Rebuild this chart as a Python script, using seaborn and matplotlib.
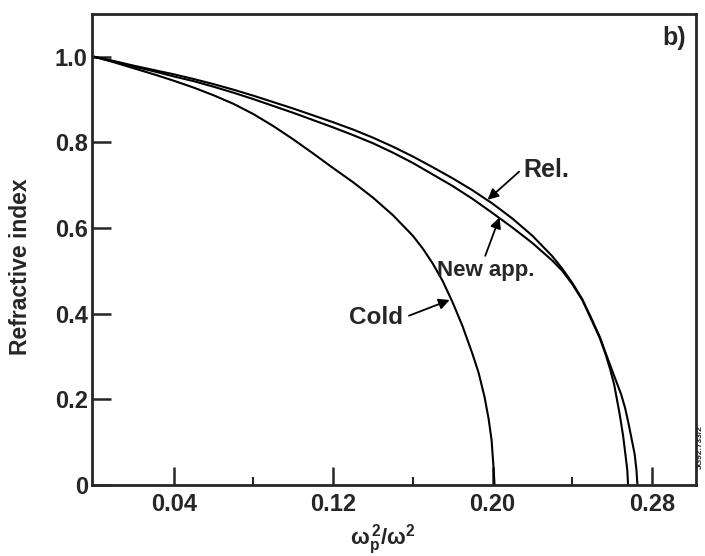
import numpy as np
import pandas as pd
import matplotlib
matplotlib.use("Agg")
import matplotlib.pyplot as plt
import seaborn as sns

# values (x = wp^2/w^2, y = refractive index)
cold_x = [0.0, 0.01, 0.02, 0.03, 0.04, 0.05, 0.06, 0.07, 0.08, 0.09, 0.10,
          0.11, 0.12, 0.13, 0.14, 0.15, 0.16, 0.165, 0.17, 0.175, 0.18, 0.185,
          0.19, 0.193, 0.196, 0.198, 0.1995, 0.2005, 0.201]
cold_n = [1.0, 0.987, 0.973, 0.959, 0.944, 0.928, 0.910, 0.890, 0.866, 0.838,
          0.807, 0.774, 0.740, 0.707, 0.671, 0.630, 0.582, 0.552, 0.517, 0.476,
          0.426, 0.370, 0.305, 0.262, 0.205, 0.155, 0.105, 0.04, 0.0]

rel_x = [0.0, 0.01, 0.02, 0.03, 0.04, 0.05, 0.06, 0.07, 0.08, 0.09, 0.10,
         0.11, 0.12, 0.13, 0.14, 0.15, 0.16, 0.17, 0.18, 0.19, 0.20, 0.21,
         0.22, 0.23, 0.235, 0.24, 0.245, 0.2495, 0.2538, 0.257, 0.261,
         0.2645, 0.2665, 0.2683, 0.2713, 0.2722, 0.2727]
rel_n = [1.0, 0.990, 0.979, 0.969, 0.959, 0.948, 0.936, 0.923, 0.909, 0.894,
         0.879, 0.863, 0.847, 0.830, 0.811, 0.790, 0.767, 0.742, 0.716, 0.688,
         0.657, 0.622, 0.582, 0.534, 0.505, 0.472, 0.434, 0.390, 0.346, 0.305,
         0.255, 0.212, 0.180, 0.142, 0.072, 0.035, 0.0]

new_x = [0.0, 0.01, 0.02, 0.03, 0.04, 0.05, 0.06, 0.07, 0.08, 0.09, 0.10,
         0.11, 0.12, 0.13, 0.14, 0.15, 0.16, 0.17, 0.18, 0.19, 0.20, 0.21,
         0.22, 0.23, 0.235, 0.24, 0.245, 0.2495, 0.2538, 0.2568, 0.259,
         0.261, 0.2638, 0.2655, 0.2667, 0.2676, 0.268]
new_n = [1.0, 0.989, 0.977, 0.966, 0.954, 0.943, 0.930, 0.916, 0.901, 0.885,
         0.869, 0.852, 0.835, 0.817, 0.798, 0.776, 0.752, 0.725, 0.698, 0.668,
         0.635, 0.601, 0.565, 0.524, 0.500, 0.469, 0.432, 0.387, 0.343, 0.304,
         0.270, 0.235, 0.165, 0.115, 0.070, 0.035, 0.0]

x_major = [0.04, 0.12, 0.20, 0.28]
x_minor = [0.08, 0.16, 0.24]
y_ticks = [0, 0.2, 0.4, 0.6, 0.8, 1.0]
y_labels = ["0", "0.2", "0.4", "0.6", "0.8", "1.0"]

sns.set_style("ticks")
plt.rcParams["font.family"] = ["Liberation Sans", "DejaVu Sans"]
plt.rcParams["font.weight"] = "bold"
plt.rcParams["mathtext.fontset"] = "custom"
plt.rcParams["mathtext.rm"] = "Liberation Sans:bold"
plt.rcParams["mathtext.it"] = "Liberation Sans:bold"
plt.rcParams["mathtext.default"] = "rm"

fig = plt.figure(figsize=(7.05, 5.56), dpi=100)
ax = fig.add_axes([0.1305, 0.1277, 0.8565, 0.8473])

for xs, ns in [(cold_x, cold_n), (rel_x, rel_n), (new_x, new_n)]:
    df = pd.DataFrame({"x": xs, "n": ns})
    sns.lineplot(data=df, x="x", y="n", ax=ax, color="black", linewidth=1.5,
                 estimator=None, sort=False)

ax.set_xlim(-0.001, 0.302)
ax.set_ylim(0, 1.1)
ax.set_xticks(x_major)
ax.set_xticklabels([f"{v:.2f}" for v in x_major])
ax.set_xticks(x_minor, minor=True)
ax.set_yticks(y_ticks)
ax.set_yticklabels(y_labels)
ax.tick_params(axis="y", which="major", direction="in", length=14, width=1.8,
               labelsize=17, pad=3)
ax.tick_params(axis="x", which="major", direction="in", length=13, width=1.8,
               labelsize=17, pad=6)
ax.tick_params(axis="x", which="minor", direction="in", length=6, width=1.5)
for sp in ax.spines.values():
    sp.set_linewidth(2.0)

ax.set_xlabel(r"$\omega_p^{\,2}/\omega^2$", fontsize=16)
ax.xaxis.set_label_coords(0.482, -0.080)
ax.set_ylabel("Refractive index", fontsize=16.5, fontweight="bold")
ax.yaxis.set_label_coords(-0.100, 0.463)

arrow = dict(arrowstyle="-|>", color="black", lw=1.3, mutation_scale=16)
ax.annotate("Rel.", xy=(0.1975, 0.666), xytext=(0.2155, 0.735),
            fontsize=18, fontweight="bold", va="center", ha="left",
            arrowprops=dict(arrow, relpos=(0.0, 0.6), shrinkA=1, shrinkB=0))
ax.annotate("New app.", xy=(0.2035, 0.625), xytext=(0.172, 0.50),
            fontsize=16, fontweight="bold", va="center", ha="left",
            arrowprops=dict(arrow, relpos=(0.48, 1.0), shrinkA=1, shrinkB=0))
ax.annotate("Cold", xy=(0.1785, 0.432), xytext=(0.128, 0.39),
            fontsize=17.5, fontweight="bold", va="center", ha="left",
            arrowprops=dict(arrow, relpos=(1.0, 0.5), shrinkA=2, shrinkB=0))
ax.text(0.964, 0.949, "b)", transform=ax.transAxes, fontsize=18,
        fontweight="bold", ha="center", va="center")
fig.text(0.999, 0.196, "JG92.733/2", rotation=90, fontsize=6, ha="right",
         va="center", color="#222222")

fig.savefig("out.png", dpi=100)
